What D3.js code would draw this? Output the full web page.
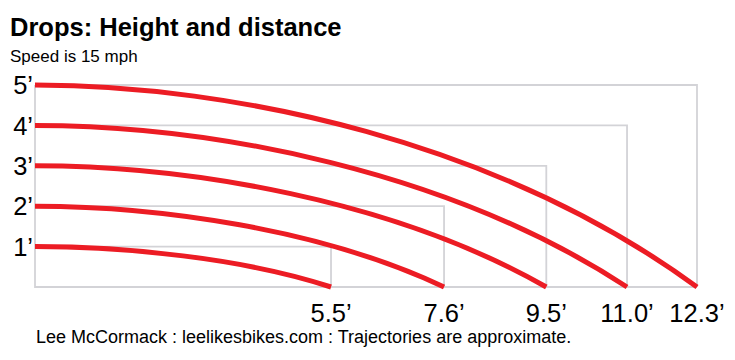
<!DOCTYPE html>
<html>
<head>
<meta charset="utf-8">
<script src="https://cdn.jsdelivr.net/npm/d3@7"></script>
<style>
  html, body { margin: 0; padding: 0; background: #fff; }
  svg { display: block; font-family: "Liberation Sans", Arial, Helvetica, sans-serif; }
</style>
</head>
<body>
<svg id="chart" width="735" height="360"></svg>
<script>
// ---- data ----
const heights   = [1, 2, 3, 4, 5];                 // drop height, feet
const distances = [5.5, 7.6, 9.5, 11.0, 12.3];     // landing distance, feet
const yTickLabels = ["1\u2019", "2\u2019", "3\u2019", "4\u2019", "5\u2019"];
const xTickLabels = ["5.5\u2019", "7.6\u2019", "9.5\u2019", "11.0\u2019", "12.3\u2019"];
const title = "Drops: Height and distance";
const subtitle = "Speed is 15 mph";
const footer = "Lee McCormack : leelikesbikes.com : Trajectories are approximate.";

// ---- layout ----
const svg = d3.select("#chart");
const x = d3.scaleLinear().domain([0, 12.3]).range([35, 697]);
const y = d3.scaleLinear().domain([0, 5]).range([287, 85]);
const gray = "#d3d3d7";
const red = "#ec1c24";

svg.append("text").attr("x", 10).attr("y", 36)
  .attr("font-size", 25.5).attr("font-weight", "bold").attr("fill", "#000").text(title);
svg.append("text").attr("x", 10).attr("y", 62)
  .attr("font-size", 17).attr("fill", "#000").text(subtitle);

// gray guide boxes
const guides = svg.append("g").attr("fill", "none").attr("stroke", gray).attr("stroke-width", 1.8);
heights.forEach((h, i) => {
  const d = distances[i];
  guides.append("path")
    .attr("d", `M${x(0)},${y(h)}H${x(d)}V${y(0)}`);
});
guides.append("path").attr("d", `M${x(0)},${y(5)}V${y(0)}H${x(12.3)}`);

// trajectories: flat start at (0,h), landing at (d,0)
const curves = svg.append("g").attr("fill", "none").attr("stroke", red)
  .attr("stroke-width", 5).attr("stroke-linecap", "butt");
heights.forEach((h, i) => {
  const d = distances[i];
  const p = d3.path();
  p.moveTo(x(0), y(h));
  p.bezierCurveTo(x(d * 0.3), y(h), x(d * 0.7), y(h * 0.72), x(d), y(0));
  curves.append("path").attr("d", p.toString());
});

// y labels
svg.append("g").selectAll("text").data(heights).join("text")
  .attr("x", 33).attr("y", d => y(d)).attr("dy", "0.36em")
  .attr("text-anchor", "end").attr("font-size", 25.5).attr("fill", "#000")
  .text((d, i) => yTickLabels[i]);

// x labels
svg.append("g").selectAll("text").data(distances).join("text")
  .attr("x", d => x(d)).attr("y", y(0) + 35)
  .attr("text-anchor", "middle").attr("font-size", 25.5).attr("fill", "#000")
  .text((d, i) => xTickLabels[i]);

svg.append("text").attr("x", 36).attr("y", 343)
  .attr("font-size", 18).attr("fill", "#000").text(footer);
</script>
</body>
</html>
